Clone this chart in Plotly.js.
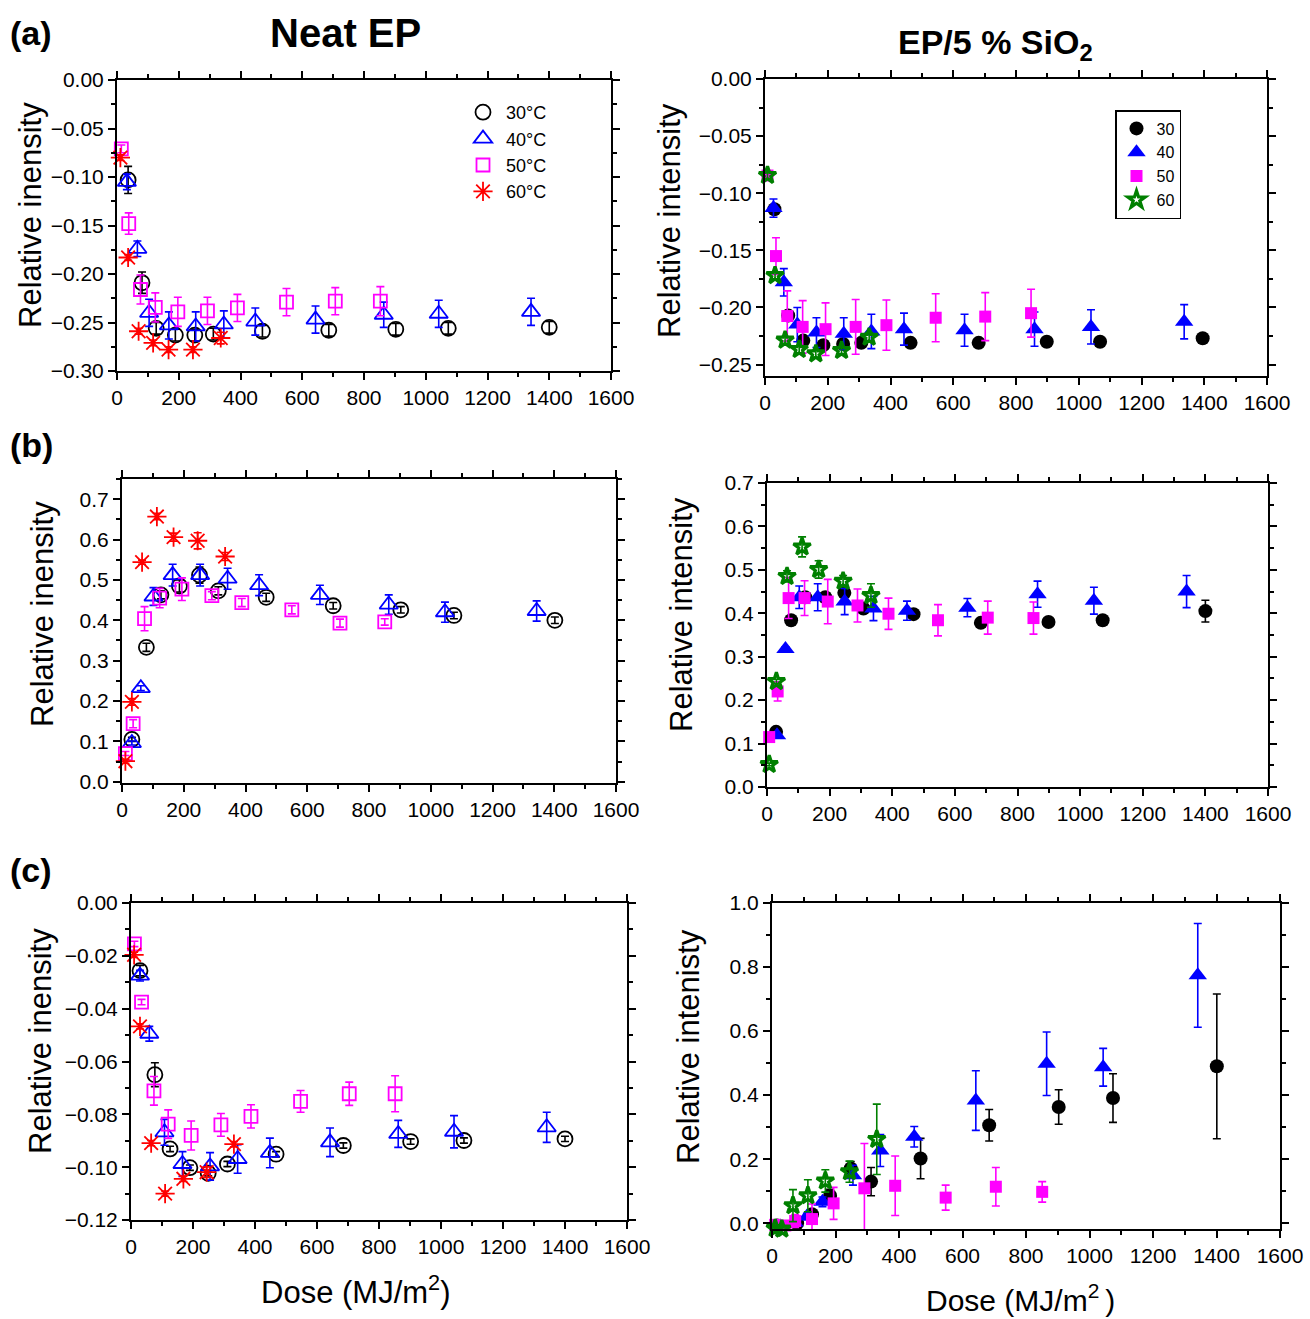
<!DOCTYPE html>
<html>
<head>
<meta charset="utf-8">
<script src="https://cdn.plot.ly/plotly-3.0.1.min.js"></script>
<style>html,body{margin:0;padding:0;background:#fff;}#chart{width:1310px;height:1319px;}</style>
</head>
<body>
<div id="chart"></div>
<script>
// ---------- DATA ----------
const seriesNames = ['30', '40', '50', '60'];
const neatLegend = ['30°C', '40°C', '50°C', '60°C'];

// (a) Neat EP
const a1_dose30 = [36, 81, 127, 189, 252, 312, 471, 686, 903, 1073, 1400];
const a1_val30  = [-0.103, -0.209, -0.256, -0.263, -0.263, -0.262, -0.259, -0.258, -0.257, -0.256, -0.255];
const a1_err30  = [0.014, 0.011, 0.006, 0.006, 0.006, 0.006, 0.006, 0.006, 0.006, 0.006, 0.006];
const a1_dose40 = [32, 66, 104, 168, 255, 346, 448, 643, 864, 1042, 1341];
const a1_val40  = [-0.105, -0.174, -0.240, -0.253, -0.254, -0.252, -0.249, -0.247, -0.242, -0.241, -0.239];
const a1_err40  = [0.008, 0.008, 0.014, 0.014, 0.015, 0.014, 0.014, 0.014, 0.013, 0.014, 0.014];
const a1_dose50 = [14, 38, 76, 124, 197, 293, 390, 549, 707, 853];
const a1_val50  = [-0.071, -0.148, -0.216, -0.2345, -0.239, -0.238, -0.235, -0.229, -0.228, -0.228];
const a1_err50  = [0.004, 0.011, 0.015, 0.015, 0.015, 0.014, 0.014, 0.014, 0.014, 0.015];
const a1_dose60 = [11, 36, 70, 117, 167, 246, 336];
const a1_val60  = [-0.080, -0.183, -0.259, -0.271, -0.278, -0.278, -0.266];
const a1_err60  = [0.003, 0.003, 0.003, 0.003, 0.003, 0.003, 0.006];

// (a) EP/5% SiO2
const a2_dose30 = [30, 74, 122, 186, 249, 307, 464, 681, 898, 1068, 1395];
const a2_val30  = [-0.114, -0.207, -0.229, -0.233, -0.232, -0.231, -0.231, -0.231, -0.230, -0.230, -0.227];
const a2_err30  = [0.003, 0.003, 0.003, 0.003, 0.003, 0.003, 0.003, 0.003, 0.003, 0.003, 0.003];
const a2_dose40 = [27, 60, 103, 164, 251, 339, 443, 636, 859, 1039, 1336];
const a2_val40  = [-0.113, -0.178, -0.215, -0.222, -0.223, -0.221, -0.219, -0.220, -0.219, -0.217, -0.2125];
const a2_err40  = [0.008, 0.012, 0.015, 0.013, 0.014, 0.015, 0.014, 0.014, 0.015, 0.015, 0.015];
const a2_dose50 = [8, 35, 71, 120, 193, 289, 387, 544, 702, 848];
const a2_val50  = [-0.0845, -0.155, -0.2075, -0.217, -0.219, -0.217, -0.2155, -0.209, -0.208, -0.205];
const a2_err50  = [0.003, 0.016, 0.022, 0.023, 0.023, 0.024, 0.022, 0.021, 0.021, 0.021];
const a2_dose60 = [8, 32, 64, 109, 162, 244, 332];
const a2_val60  = [-0.0843, -0.172, -0.2285, -0.2367, -0.2405, -0.2376, -0.226];
const a2_err60  = [0.003, 0.003, 0.003, 0.003, 0.003, 0.003, 0.004];

// (b) Neat EP
const b1_dose30 = [32, 79, 126, 186, 251, 312, 467, 684, 903, 1075, 1402];
const b1_val30  = [0.105, 0.333, 0.463, 0.485, 0.512, 0.473, 0.457, 0.436, 0.426, 0.412, 0.400];
const b1_err30  = [0.005, 0.010, 0.010, 0.015, 0.020, 0.010, 0.010, 0.008, 0.008, 0.008, 0.008];
const b1_dose40 = [32, 61, 102, 164, 253, 342, 444, 641, 864, 1046, 1343];
const b1_val40  = [0.096, 0.232, 0.459, 0.512, 0.512, 0.503, 0.487, 0.463, 0.439, 0.420, 0.423];
const b1_err40  = [0.005, 0.006, 0.022, 0.027, 0.027, 0.026, 0.026, 0.024, 0.024, 0.025, 0.025];
const b1_dose50 = [11, 36, 73, 122, 194, 291, 388, 550, 706, 851];
const b1_val50  = [0.070, 0.144, 0.404, 0.455, 0.477, 0.461, 0.444, 0.426, 0.393, 0.396];
const b1_err50  = [0.005, 0.010, 0.030, 0.024, 0.028, 0.010, 0.010, 0.010, 0.010, 0.008];
const b1_dose60 = [11, 32, 65, 113, 167, 245, 334];
const b1_val60  = [0.051, 0.198, 0.544, 0.657, 0.606, 0.597, 0.558];
const b1_err60  = [0.005, 0.008, 0.005, 0.008, 0.010, 0.020, 0.010];

// (b) EP/5% SiO2
const b2_dose30 = [29, 77, 122, 186, 247, 308, 468, 683, 899, 1072, 1400];
const b2_val30  = [0.127, 0.384, 0.437, 0.437, 0.447, 0.411, 0.398, 0.378, 0.380, 0.384, 0.405];
const b2_err30  = [0.005, 0.005, 0.005, 0.005, 0.005, 0.005, 0.005, 0.005, 0.005, 0.005, 0.025];
const b2_dose40 = [32, 59, 103, 162, 248, 340, 447, 640, 864, 1044, 1340];
const b2_val40  = [0.119, 0.318, 0.437, 0.437, 0.427, 0.411, 0.406, 0.413, 0.444, 0.429, 0.450];
const b2_err40  = [0.004, 0.005, 0.026, 0.031, 0.030, 0.028, 0.022, 0.021, 0.030, 0.031, 0.037];
const b2_dose50 = [7, 34, 69, 120, 194, 289, 388, 546, 705, 851];
const b2_val50  = [0.115, 0.220, 0.435, 0.435, 0.427, 0.418, 0.399, 0.384, 0.390, 0.389];
const b2_err50  = [0.004, 0.022, 0.047, 0.040, 0.051, 0.038, 0.036, 0.036, 0.038, 0.037];
const b2_dose60 = [7, 30, 64, 112, 165, 243, 332];
const b2_val60  = [0.052, 0.243, 0.485, 0.553, 0.501, 0.474, 0.441];
const b2_err60  = [0.003, 0.005, 0.013, 0.023, 0.020, 0.013, 0.027];

// (c) Neat EP
const c1_dose30 = [29, 77, 126, 190, 249, 311, 468, 685, 902, 1074, 1400];
const c1_val30  = [-0.0256, -0.065, -0.0931, -0.1002, -0.1023, -0.0988, -0.0951, -0.0918, -0.0903, -0.0899, -0.0893];
const c1_err30  = [0.002, 0.0045, 0.001, 0.001, 0.001, 0.001, 0.001, 0.001, 0.001, 0.001, 0.001];
const c1_dose40 = [29, 59, 108, 166, 255, 344, 448, 642, 862, 1042, 1341];
const c1_val40  = [-0.0275, -0.0495, -0.0868, -0.0988, -0.0997, -0.0969, -0.0946, -0.0906, -0.0874, -0.0866, -0.0849];
const c1_err40  = [0.002, 0.0028, 0.0049, 0.0047, 0.0052, 0.0054, 0.0056, 0.0054, 0.0051, 0.0061, 0.0057];
const c1_dose50 = [11, 34, 74, 120, 194, 290, 387, 547, 704, 852];
const c1_val50  = [-0.0155, -0.0375, -0.0711, -0.0837, -0.088, -0.084, -0.0808, -0.0751, -0.0722, -0.0722];
const c1_err50  = [0.001, 0.001, 0.0054, 0.0054, 0.0055, 0.0043, 0.0044, 0.0041, 0.0044, 0.0068];
const c1_dose60 = [10, 29, 65, 110, 169, 244, 332];
const c1_val60  = [-0.0196, -0.0467, -0.0909, -0.110, -0.1044, -0.1019, -0.0913];
const c1_err60  = [0.001, 0.001, 0.001, 0.001, 0.001, 0.002, 0.001];

// (c) EP/5% SiO2
const c2_dose30 = [16, 79, 126, 183, 248, 312, 468, 684, 903, 1074, 1401];
const c2_val30  = [-0.007, 0.0, 0.028, 0.086, 0.171, 0.130, 0.202, 0.306, 0.363, 0.391, 0.490];
const c2_err30  = [0.005, 0.005, 0.010, 0.020, 0.022, 0.044, 0.063, 0.049, 0.054, 0.076, 0.226];
const c2_dose40 = [26, 71, 110, 159, 255, 341, 448, 642, 865, 1043, 1341];
const c2_val40  = [-0.010, 0.002, 0.021, 0.067, 0.150, 0.227, 0.270, 0.383, 0.498, 0.487, 0.774];
const c2_err40  = [0.005, 0.010, 0.010, 0.015, 0.031, 0.050, 0.032, 0.093, 0.099, 0.059, 0.162];
const c2_dose50 = [10, 42, 73, 126, 194, 291, 388, 547, 705, 851];
const c2_val50  = [-0.005, -0.007, 0.007, 0.013, 0.062, 0.109, 0.117, 0.080, 0.114, 0.098];
const c2_err50  = [0.005, 0.005, 0.020, 0.047, 0.050, 0.140, 0.093, 0.039, 0.060, 0.032];
const c2_dose60 = [10, 31, 66, 113, 168, 244, 330];
const c2_val60  = [-0.016, -0.018, 0.055, 0.086, 0.132, 0.161, 0.262];
const c2_err60  = [0.003, 0.003, 0.050, 0.050, 0.035, 0.033, 0.110];

// ---------- STYLE ----------
const W = 1310, H = 1319;
const FONT = 'Liberation Sans, Arial, Helvetica, sans-serif';
const colors = ['#000000', '#0000FF', '#FF00FF', '#FF0000'];
const colorsSi = ['#000000', '#0000FF', '#FF00FF', '#008000'];
const neatMarkers = [
  {symbol: 'circle-open', size: 15, lw: 1.8},
  {symbol: 'triangle-up-open', size: 16, lw: 1.8},
  {symbol: 'square-open', size: 13, lw: 1.8},
  {symbol: 'asterisk-open', size: 16, lw: 1.8}
];
const siMarkers = [
  {symbol: 'circle', size: 14, lw: 0},
  {symbol: 'triangle-up', size: 16, lw: 0},
  {symbol: 'square', size: 12, lw: 0},
  {symbol: 'star-open', size: 13, lw: 3.2}
];

const panels = [
  {box: [117, 611, 80, 371], yr: [-0.30, 0.0], dt: 0.05, mn: 0.025, fmt: '.2f', si: false,
   d: [[a1_dose30, a1_val30, a1_err30], [a1_dose40, a1_val40, a1_err40], [a1_dose50, a1_val50, a1_err50], [a1_dose60, a1_val60, a1_err60]], legend: 'legend'},
  {box: [765, 1267, 79, 376], yr: [-0.26, 0.0], dt: 0.05, mn: 0.025, fmt: '.2f', si: true,
   d: [[a2_dose30, a2_val30, a2_err30], [a2_dose40, a2_val40, a2_err40], [a2_dose50, a2_val50, a2_err50], [a2_dose60, a2_val60, a2_err60]], legend: 'legend2'},
  {box: [122, 616, 479, 783], yr: [-0.003, 0.75], dt: 0.1, mn: 0.05, fmt: '.1f', si: false,
   d: [[b1_dose30, b1_val30, b1_err30], [b1_dose40, b1_val40, b1_err40], [b1_dose50, b1_val50, b1_err50], [b1_dose60, b1_val60, b1_err60]]},
  {box: [767, 1268, 483, 787], yr: [0.0, 0.7], dt: 0.1, mn: 0.05, fmt: '.1f', si: true,
   d: [[b2_dose30, b2_val30, b2_err30], [b2_dose40, b2_val40, b2_err40], [b2_dose50, b2_val50, b2_err50], [b2_dose60, b2_val60, b2_err60]]},
  {box: [131, 627, 903, 1220], yr: [-0.12, 0.0], dt: 0.02, mn: 0.01, fmt: '.2f', si: false,
   d: [[c1_dose30, c1_val30, c1_err30], [c1_dose40, c1_val40, c1_err40], [c1_dose50, c1_val50, c1_err50], [c1_dose60, c1_val60, c1_err60]]},
  {box: [772, 1280, 903, 1229], yr: [-0.018, 1.0], dt: 0.2, mn: 0.1, fmt: '.1f', si: true,
   d: [[c2_dose30, c2_val30, c2_err30], [c2_dose40, c2_val40, c2_err40], [c2_dose50, c2_val50, c2_err50], [c2_dose60, c2_val60, c2_err60]]}
];

const traces = [];
const layout = {
  width: W, height: H,
  margin: {l: 0, r: 0, t: 0, b: 0},
  paper_bgcolor: '#ffffff', plot_bgcolor: '#ffffff',
  font: {family: FONT, size: 20, color: '#000'},
  showlegend: true,
  annotations: []
};

panels.forEach((p, i) => {
  const n = i + 1;
  const xa = n === 1 ? 'xaxis' : 'xaxis' + n;
  const ya = n === 1 ? 'yaxis' : 'yaxis' + n;
  const xr = n === 1 ? 'x' : 'x' + n;
  const yr = n === 1 ? 'y' : 'y' + n;
  const common = {
    showline: true, linecolor: '#000', linewidth: 2, mirror: 'allticks',
    ticks: 'outside', ticklen: 7, tickwidth: 2, tickcolor: '#000',
    showgrid: false, zeroline: false, fixedrange: true,
    tickfont: {family: FONT, size: 21, color: '#000'}
  };
  layout[xa] = Object.assign({}, common, {
    domain: [p.box[0] / W, p.box[1] / W], anchor: yr,
    range: [0, 1600], tick0: 0, dtick: 200, tickformat: 'd',
    minor: {dtick: 100, ticklen: 4, tickwidth: 2, tickcolor: '#000', ticks: 'outside'}
  });
  layout[ya] = Object.assign({}, common, {
    domain: [1 - p.box[3] / H, 1 - p.box[2] / H], anchor: xr,
    range: p.yr, tick0: 0, dtick: p.dt, tickformat: p.fmt,
    minor: {dtick: p.mn, ticklen: 4, tickwidth: 2, tickcolor: '#000', ticks: 'outside'}
  });
  p.d.forEach((s, k) => {
    const col = p.si ? colorsSi[k] : colors[k];
    const mk = p.si ? siMarkers[k] : neatMarkers[k];
    traces.push({
      type: 'scatter', mode: 'markers',
      x: s[0], y: s[1],
      xaxis: xr, yaxis: yr,
      name: p.si ? seriesNames[k] : neatLegend[k],
      showlegend: !!p.legend,
      legend: p.legend || 'legend',
      cliponaxis: false,
      marker: {symbol: mk.symbol, size: mk.size, color: col, line: {color: col, width: mk.lw}},
      error_y: {type: 'data', array: s[2], visible: true, color: col, thickness: 1.6, width: 4}
    });
  });
});

layout.legend = {
  x: 460 / W, y: 1 - 94 / H, xanchor: 'left', yanchor: 'top',
  bgcolor: 'rgba(0,0,0,0)', borderwidth: 0, itemwidth: 36,
  font: {family: FONT, size: 18, color: '#000'}, tracegroupgap: 0, itemsizing: 'trace'
};
layout.legend2 = {
  x: 1115 / W, y: 1 - 110 / H, xanchor: 'left', yanchor: 'top',
  bgcolor: '#ffffff', bordercolor: '#000', borderwidth: 1.5,
  font: {family: FONT, size: 16, color: '#000'}, tracegroupgap: 0, itemsizing: 'trace'
};

function ann(text, px, py, size, opts) {
  layout.annotations.push(Object.assign({
    text: text, x: px / W, y: 1 - py / H, xref: 'paper', yref: 'paper',
    showarrow: false, xanchor: 'center', yanchor: 'middle',
    font: {family: FONT, size: size, color: '#000'}
  }, opts || {}));
}
ann('<b>(a)</b>', 31, 33, 34);
ann('<b>(b)</b>', 31, 445, 34);
ann('<b>(c)</b>', 31, 870, 34);
ann('<b>Neat EP</b>', 346, 33, 40);
ann('<b>EP/5 % SiO<sub>2</sub></b>', 995, 45, 34);
ann('Relative inensity', 30, 215, 31, {textangle: -90});
ann('Relative intensity', 670, 221, 31, {textangle: -90});
ann('Relative inensity', 42, 614, 31, {textangle: -90});
ann('Relative intensity', 681, 615, 31, {textangle: -90});
ann('Relative inensity', 40, 1041, 31, {textangle: -90});
ann('Relative intenisty', 688, 1047, 31, {textangle: -90});
ann('Dose (MJ/m<sup>2</sup>)', 355, 1290, 31);
ann('Dose (MJ/m<sup>2 </sup>)', 1020, 1298, 30);

Plotly.newPlot('chart', traces, layout, {staticPlot: true, displayModeBar: false});
</script>
</body>
</html>
